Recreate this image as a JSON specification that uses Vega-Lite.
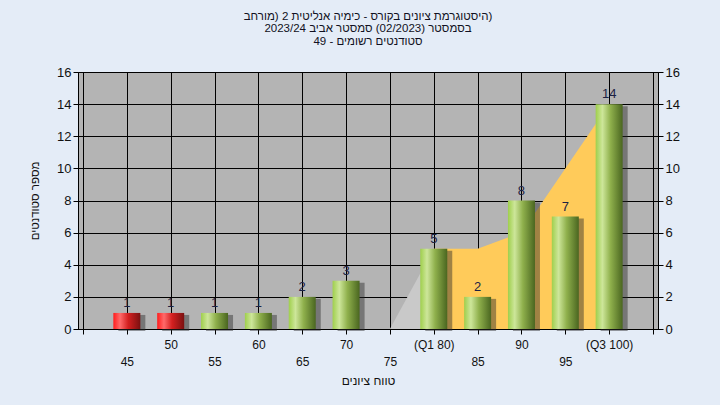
{
  "$schema": "https://vega.github.io/schema/vega-lite/v6.json",
  "width": 580,
  "height": 257,
  "autosize": {"type": "none"},
  "padding": {"left": 78, "top": 72, "right": 62, "bottom": 76},
  "background": "#e4ecf7",
  "config": {
    "font": "Liberation Sans",
    "view": {"fill": "#b4b4b4", "stroke": "#000000", "strokeWidth": 1},
    "axis": {
      "labelFont": "Liberation Sans",
      "titleFont": "Liberation Sans",
      "labelColor": "#111111",
      "titleColor": "#111111",
      "domainColor": "#000000",
      "tickColor": "#000000",
      "gridColor": "#000000",
      "gridOpacity": 1,
      "gridWidth": 1,
      "tickSize": 5,
      "titleFontWeight": "normal",
      "titleFontSize": 12
    }
  },
  "title": {
    "text": [
      "‏(היסטוגרמת ציונים בקורס - כימיה אנליטית 2 (מורחב",
      "בסמסטר  (02/2023)  סמסטר אביב 2023/24",
      "סטודנטים רשומים - 49"
    ],
    "anchor": "middle",
    "frame": "group",
    "offset": 19,
    "fontSize": 11.5,
    "lineHeight": 12.5,
    "fontWeight": "normal",
    "font": "Liberation Sans",
    "color": "#111122"
  },
  "datasets": {
    "bars": [
      {"grade": 45, "students": 1},
      {"grade": 50, "students": 1},
      {"grade": 55, "students": 1},
      {"grade": 60, "students": 1},
      {"grade": 65, "students": 2},
      {"grade": 70, "students": 3},
      {"grade": 75, "students": 0},
      {"grade": 80, "students": 5},
      {"grade": 85, "students": 2},
      {"grade": 90, "students": 8},
      {"grade": 95, "students": 7},
      {"grade": 100, "students": 14}
    ],
    "area": [
      {"grade": 75, "level": 0, "seg": "low"},
      {"grade": 80, "level": 5, "seg": "low"},
      {"grade": 80, "level": 5, "seg": "mid"},
      {"grade": 85, "level": 5, "seg": "mid"},
      {"grade": 90, "level": 6, "seg": "mid"},
      {"grade": 95, "level": 10, "seg": "mid"},
      {"grade": 100, "level": 14, "seg": "mid"}
    ],
    "note": [
      {"text": "במשימה : ציון סופי במערכת האקדמית במחשב המרכזי"}
    ]
  },
  "encoding": {
    "x": {
      "field": "grade",
      "type": "quantitative",
      "scale": {"domain": [40, 105], "nice": false, "zero": false},
      "axis": {
        "values": [40, 45, 50, 55, 60, 65, 70, 75, 80, 85, 90, 95, 100, 105],
        "grid": true,
        "title": "טווח ציונים",
        "titlePadding": 8,
        "labelFontSize": 12,
        "labelPadding": 5,
        "labelLineHeight": 17,
        "labelOverlap": false,
        "labelBound": false,
        "labelFlush": false,
        "labelExpr": "datum.value == 40 || datum.value == 105 ? '' : datum.value == 80 ? '(Q1 80)' : datum.value == 100 ? '(Q3 100)' : datum.value % 10 == 5 ? ['', datum.label] : datum.label"
      }
    }
  },
  "layer": [
    {
      "data": {"name": "area"},
      "mark": {"type": "area", "opacity": 1},
      "encoding": {
        "y": {"field": "level", "type": "quantitative", "stack": null, "scale": {"domain": [0, 16], "nice": false}, "axis": null},
        "color": {"field": "seg", "type": "nominal", "scale": {"domain": ["low", "mid"], "range": ["#c9c9c9", "#ffcb5a"]}, "legend": null}
      }
    },
    {
      "data": {"name": "bars"},
      "transform": [{"filter": "datum.students > 0"}],
      "mark": {"type": "bar", "size": 27, "xOffset": 5, "yOffset": 2, "color": "#2a2a2a", "opacity": 0.45},
      "encoding": {
        "y": {"field": "students", "type": "quantitative", "axis": null}
      }
    },
    {
      "data": {"name": "bars"},
      "transform": [{"filter": "datum.students > 0 && datum.grade >= 55"}],
      "mark": {
        "type": "bar",
        "size": 27,
        "color": {
          "gradient": "linear", "x1": 0, "y1": 0, "x2": 1, "y2": 0,
          "stops": [
            {"offset": 0, "color": "#9fcf4c"},
            {"offset": 0.25, "color": "#cde69a"},
            {"offset": 0.55, "color": "#8fb04c"},
            {"offset": 1, "color": "#4a6620"}
          ]
        }
      },
      "encoding": {
        "y": {
          "field": "students", "type": "quantitative",
          "axis": {
            "orient": "left", "values": [0, 2, 4, 6, 8, 10, 12, 14, 16], "grid": true,
            "title": "מספר סטודנטים", "titlePadding": 16, "titleFontSize": 11.5, "labelFontSize": 13, "labelPadding": 2
          }
        }
      }
    },
    {
      "data": {"name": "bars"},
      "transform": [{"filter": "datum.students > 0 && datum.grade < 55"}],
      "mark": {
        "type": "bar",
        "size": 27,
        "color": {
          "gradient": "linear", "x1": 0, "y1": 0, "x2": 1, "y2": 0,
          "stops": [
            {"offset": 0, "color": "#ff1c1c"},
            {"offset": 0.25, "color": "#ff6a6a"},
            {"offset": 0.55, "color": "#d42020"},
            {"offset": 1, "color": "#7a1010"}
          ]
        }
      },
      "encoding": {
        "y": {"field": "students", "type": "quantitative", "axis": null}
      }
    },
    {
      "data": {"name": "bars"},
      "transform": [{"filter": "datum.students > 0"}],
      "mark": {"type": "text", "baseline": "bottom", "dy": -3, "fontSize": 13, "color": "#1c2244", "font": "Liberation Sans"},
      "encoding": {
        "y": {
          "field": "students", "type": "quantitative",
          "axis": {
            "orient": "right", "values": [0, 2, 4, 6, 8, 10, 12, 14, 16], "grid": false,
            "title": null, "labelFontSize": 13, "labelPadding": 2
          }
        },
        "text": {"field": "students", "type": "quantitative"}
      }
    },
    {
      "data": {"name": "note"},
      "mark": {"type": "text", "fontSize": 12, "color": "#111111", "font": "Liberation Sans"},
      "encoding": {
        "x": {"datum": 72.5, "type": "quantitative"},
        "y": {"datum": 15.2, "type": "quantitative", "axis": null},
        "text": {"field": "text", "type": "nominal"}
      }
    }
  ],
  "resolve": {"axis": {"y": "independent"}}
}
